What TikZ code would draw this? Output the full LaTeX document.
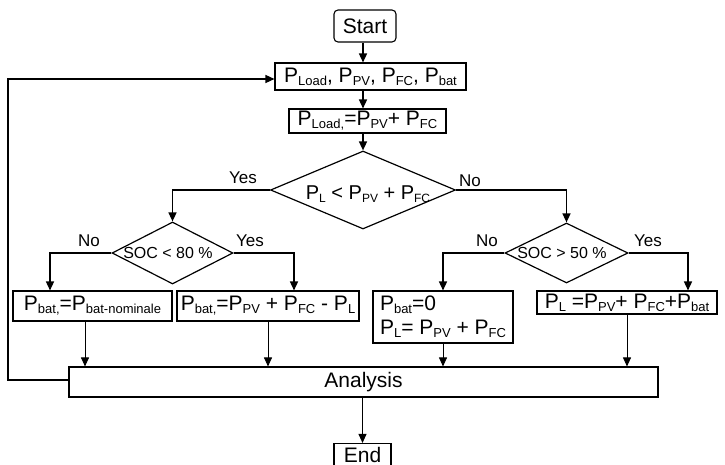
\documentclass[tikz,border=0pt]{standalone}
\usepackage{fontspec}
\setmainfont{Liberation Sans}
\usetikzlibrary{shapes.geometric,arrows.meta}
\newcommand\sbs[1]{\raisebox{-3pt}{\fontsize{13}{13}\selectfont #1}}
\newcommand\ssb[1]{\raisebox{-2.5pt}{\fontsize{12}{12}\selectfont #1}}
\begin{document}
\begin{tikzpicture}[x=1pt,y=-1pt,
  box/.style={draw,line width=1.1pt,inner sep=0pt,font=\fontsize{21}{23}\selectfont},
  dia/.style={draw,diamond,line width=1.2pt,inner sep=0pt},
  lab/.style={inner sep=0pt,font=\fontsize{17}{19}\selectfont},
  arr/.style={line width=1.5pt,-{Triangle[length=9pt,width=8pt]}},
  tarr/.style={line width=0.9pt,-{Triangle[length=9pt,width=8pt]}}]
\useasboundingbox (0,0) rectangle (725,465);
% nodes
\node[box,rounded corners=4pt,minimum width=62pt,minimum height=32pt] (start) at (365,26) {Start};
\node[box,minimum width=191pt,minimum height=27pt] (in) at (370.5,76.5) {P\sbs{Load}, P\sbs{PV}, P\sbs{FC}, P\sbs{bat}};
\node[box,minimum width=157pt,minimum height=24pt] (eq) at (367.5,121) {P\sbs{Load,}=P\sbs{PV}+ P\sbs{FC}};
\node[dia,minimum width=185pt,minimum height=78pt] (d0) at (363,190) {};
\node[inner sep=0pt,font=\fontsize{20}{22}\selectfont] (d0t) at (368,194) {P\ssb{L} < P\ssb{PV} + P\ssb{FC}};
\node[dia,minimum width=121pt,minimum height=62pt] (d1) at (172.5,253) {};
\node[inner sep=0pt,font=\fontsize{16}{18}\selectfont] (d1t) at (168,253) {SOC < 80 \%};
\node[dia,minimum width=123pt,minimum height=60pt] (d2) at (566.5,253) {};
\node[inner sep=0pt,font=\fontsize{16}{18}\selectfont] (d2t) at (562,253) {SOC > 50 \%};
\node[box,minimum width=159pt,minimum height=30pt] (bA) at (92.5,306) {P\sbs{bat,}=P\sbs{bat-nominale}};
\node[box,minimum width=182pt,minimum height=30pt] (bB) at (268,306) {P\sbs{bat,}=P\sbs{PV} + P\sbs{FC} - P\sbs{L}};
\node[box,minimum width=140pt,minimum height=52pt,align=left] (bC) at (443,317) {P\sbs{bat}=0\\[1pt]P\sbs{L}= P\sbs{PV} + P\sbs{FC}};
\node[box,minimum width=180pt,minimum height=23pt] (bD) at (627,302.5) {P\sbs{L} =P\sbs{PV}+ P\sbs{FC}+P\sbs{bat}};
\node[box,minimum width=589pt,minimum height=30pt] (an) at (363.5,382) {Analysis};
\node[box,minimum width=57pt,minimum height=22pt] (en) at (362.5,454.5) {End};
% labels
\node[lab] (ly0) at (243,178) {Yes};
\node[lab] (ln0) at (470,181) {No};
\node[lab] (ln1) at (89,241) {No};
\node[lab] (ly1) at (250,241) {Yes};
\node[lab] (ln2) at (487,241) {No};
\node[lab] (ly2) at (648,241) {Yes};
\coordinate (fb) at (8,380);
% connectors
\draw[arr] (start.south -| d0) -- (in.north -| d0);
\draw[arr] (in.south -| d0) -- (eq.north -| d0);
\draw[arr] (eq.south -| d0) -- (d0.north);
\draw[arr] (d0.west) -| (d1.north);
\draw[arr] (d0.east) -| (d2.north);
\draw[arr] (d1.west) -| ([xshift=-42.5pt]bA.north);
\draw[arr] (d1.east) -| ([xshift=26pt]bB.north);
\draw[arr] (d2.west) -| (bC.north);
\draw[arr] (d2.east) -| ([xshift=61pt]bD.north);
\draw[tarr] ([xshift=-7.5pt]bA.south) -- ([xshift=-7.5pt]bA.south |- an.north);
\draw[tarr] (bB.south) -- (bB.south |- an.north);
\draw[tarr] (bC.south) -- (bC.south |- an.north);
\draw[tarr] (bD.south) -- (bD.south |- an.north);
\draw[tarr] (an.south -| en) -- (en.north);
\draw[arr,line width=1.3pt] (an.west |- fb) -- (fb) |- ([yshift=-2.5pt]in.west);
\end{tikzpicture}
\end{document}
